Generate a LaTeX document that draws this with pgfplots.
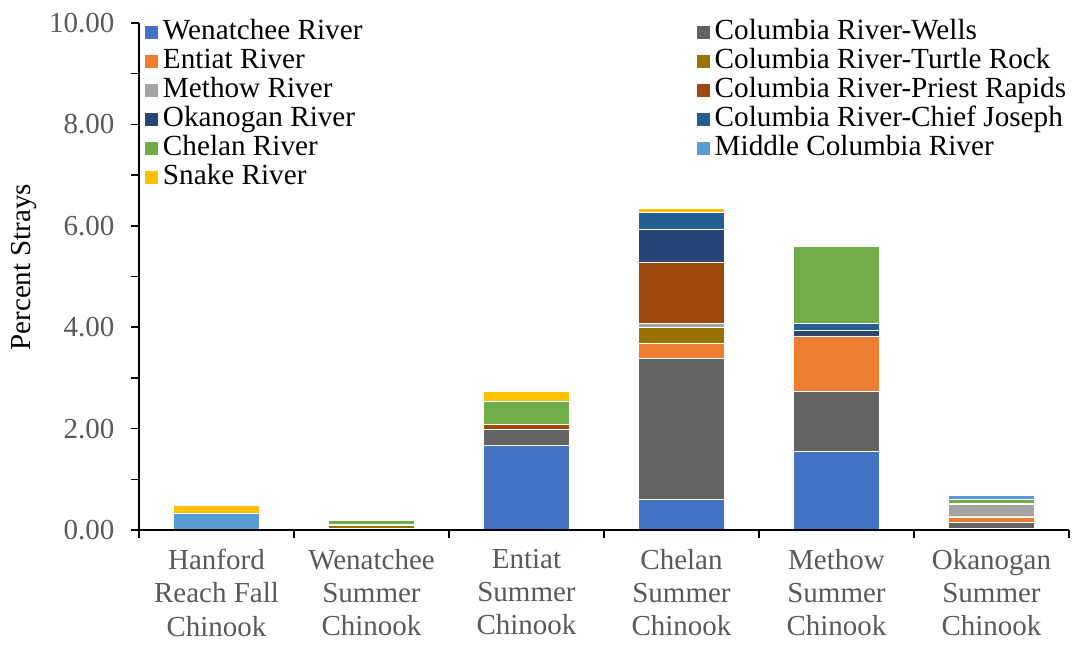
\documentclass[border=0pt]{standalone}
\usepackage{pgfplots}
\pgfplotsset{compat=1.18}
\usepackage{fontspec}
\setmainfont{Liberation Serif}
\definecolor{cWen}{HTML}{4472C4}
\definecolor{cWells}{HTML}{636363}
\definecolor{cEnt}{HTML}{ED7D31}
\definecolor{cTurtle}{HTML}{997300}
\definecolor{cMet}{HTML}{A5A5A5}
\definecolor{cPriest}{HTML}{9E480E}
\definecolor{cOka}{HTML}{264478}
\definecolor{cChief}{HTML}{255E91}
\definecolor{cChe}{HTML}{70AD47}
\definecolor{cMid}{HTML}{5B9BD5}
\definecolor{cSnake}{HTML}{FFC000}
\definecolor{labgray}{HTML}{595959}
\newcommand{\bigf}{\fontsize{21.75}{25}\selectfont}
\newcommand{\legf}{\fontsize{21.9}{25.5}\selectfont}
\newcommand{\lb}[1]{\makebox[396pt][l]{#1}}
\begin{document}
\begin{tikzpicture}
\useasboundingbox (-104.25pt,-86.25pt) rectangle (699.75pt,397.5pt);
\begin{axis}[
  at={(0pt,0pt)}, anchor=south west,
  scale only axis,
  width=697.5pt, height=380.25pt,
  ybar stacked,
  bar width=0.555,
  xmin=-0.5, xmax=5.5,
  ymin=0, ymax=10,
  axis lines=left,
  axis line style={-, line width=1.1pt},
  axis on top,
  tick align=outside,
  major tick length=6pt,
  minor tick length=6pt,
  tick style={line width=1.1pt, black},
  ytick={0,2,...,10},
  minor ytick={1,3,...,9},
  yticklabel style={font=\bigf, text=labgray, xshift=-9pt, /pgf/number format/fixed, /pgf/number format/fixed zerofill, /pgf/number format/precision=2, /pgf/number format/assume math mode=true},
  xtick={-0.5,0.5,...,5.5},
  x tick label as interval=true,
  xticklabels={{Hanford\\Reach Fall\\Chinook},{Wenatchee\\Summer\\Chinook},{Entiat\\Summer\\Chinook},{Chelan\\Summer\\Chinook},{Methow\\Summer\\Chinook},{Okanogan\\Summer\\Chinook}},
  xticklabel style={align=center, font=\bigf, text=labgray, yshift=-7pt, inner ysep=1pt},
  ylabel={Percent Strays},
  every axis y label/.style={at={(rel axis cs:0,0.5)}, xshift=-86pt, yshift=7pt, rotate=90, anchor=center, font=\bigf},
  legend columns=2,
  legend cell align=left,
  legend style={draw=none, fill=none, font=\legf, inner sep=0pt, at={(rel axis cs:0,1)}, anchor=north west, xshift=3.5pt, yshift=4pt,
    nodes={inner xsep=3.5pt, inner ysep=0pt, text height=16pt, text depth=5.75pt}, row sep=0pt, column sep=0pt},
  legend image code/.code={\fill[#1] (0pt,-5.25pt) rectangle (10.5pt,5.25pt);},
  every axis plot/.append style={draw=white, line width=0.3pt},
]
\addplot[fill=cWen] coordinates {(0,0) (1,0) (2,1.67) (3,0.60) (4,1.55) (5,0.03)};
\addlegendentry{\lb{Wenatchee River}}
\addplot[fill=cWells] coordinates {(0,0) (1,0.04) (2,0.32) (3,2.78) (4,1.18) (5,0.13)};
\addlegendentry{Columbia River-Wells}
\addplot[fill=cEnt] coordinates {(0,0) (1,0) (2,0) (3,0.30) (4,1.10) (5,0.10)};
\addlegendentry{\lb{Entiat River}}
\addplot[fill=cTurtle] coordinates {(0,0) (1,0.05) (2,0) (3,0.32) (4,0) (5,0.02)};
\addlegendentry{Columbia River-Turtle Rock}
\addplot[fill=cMet] coordinates {(0,0) (1,0) (2,0) (3,0.08) (4,0) (5,0.22)};
\addlegendentry{\lb{Methow River}}
\addplot[fill=cPriest] coordinates {(0,0) (1,0.02) (2,0.09) (3,1.21) (4,0) (5,0)};
\addlegendentry{Columbia River-Priest Rapids}
\addplot[fill=cOka] coordinates {(0,0) (1,0) (2,0) (3,0.64) (4,0.11) (5,0)};
\addlegendentry{\lb{Okanogan River}}
\addplot[fill=cChief] coordinates {(0,0) (1,0) (2,0) (3,0.34) (4,0.14) (5,0.02)};
\addlegendentry{Columbia River-Chief Joseph}
\addplot[fill=cChe] coordinates {(0,0) (1,0.08) (2,0.47) (3,0) (4,1.52) (5,0.09)};
\addlegendentry{\lb{Chelan River}}
\addplot[fill=cMid] coordinates {(0,0.34) (1,0) (2,0) (3,0) (4,0) (5,0.07)};
\addlegendentry{Middle Columbia River}
\addplot[fill=cSnake] coordinates {(0,0.15) (1,0.02) (2,0.18) (3,0.07) (4,0) (5,0.02)};
\addlegendentry{\lb{Snake River}}
\end{axis}
\end{tikzpicture}
\end{document}
